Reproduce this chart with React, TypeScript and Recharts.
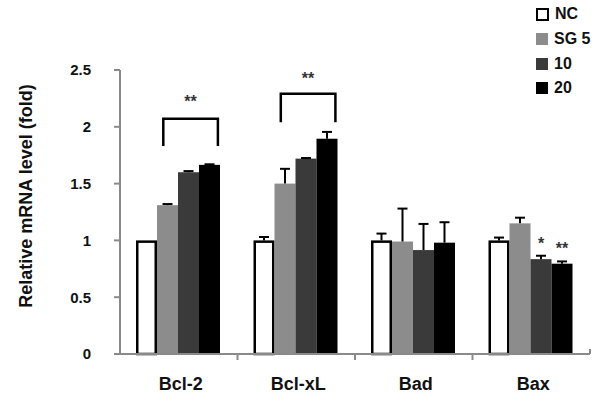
import { BarChart, Bar, XAxis, YAxis, Legend } from "recharts";

const categories = ["Bcl-2", "Bcl-xL", "Bad", "Bax"];

const ncValues = [1.0, 1.0, 1.0, 1.0];
const ncErrors = [0, 0.03, 0.06, 0.025];
const sg5Values = [1.31, 1.5, 0.99, 1.15];
const sg5Errors = [0.01, 0.13, 0.29, 0.05];
const d10Values = [1.6, 1.72, 0.915, 0.835];
const d10Errors = [0.01, 0.005, 0.23, 0.03];
const d20Values = [1.665, 1.895, 0.98, 0.795];
const d20Errors = [0.005, 0.06, 0.18, 0.02];

// stars above single bars
const d10Sig = ["", "", "", "*"];
const d20Sig = ["", "", "", "**"];

// bracket from SG 5 to 20, values in fold units
const bracketTop = [2.07, 2.29, null, null];
const bracketLeg = [1.83, 2.04, null, null];
const bracketLabel = ["**", "**", "", ""];
const bracketLabelAt = [2.25, 2.46, null, null];

const yTicks = [0, 0.5, 1, 1.5, 2, 2.5];

const series = [
  { key: "nc", name: "NC", fill: "#ffffff", stroke: "#000000" },
  { key: "sg5", name: "SG 5", fill: "#8c8c8c" },
  { key: "d10", name: "10", fill: "#3a3a3a" },
  { key: "d20", name: "20", fill: "#000000" },
];

const rows = categories.map((name, i) => ({
  name,
  nc: ncValues[i],
  ncErr: ncErrors[i],
  sg5: sg5Values[i],
  sg5Err: sg5Errors[i],
  d10: d10Values[i],
  d10Err: d10Errors[i],
  d10Sig: d10Sig[i],
  d20: d20Values[i],
  d20Err: d20Errors[i],
  d20Sig: d20Sig[i],
  bracketTop: bracketTop[i],
  bracketLeg: bracketLeg[i],
  bracketLabel: bracketLabel[i],
  bracketLabelAt: bracketLabelAt[i],
}));

const W = 604;
const H = 401;
const MARGIN = { top: 70, right: 14, bottom: 17, left: 0 };
const Y_WIDTH = 120;
const BAND = (W - MARGIN.left - MARGIN.right - Y_WIDTH) / categories.length;
const FONT = "'Liberation Sans', Arial, sans-serif";
const AXIS = "#8a8a8a";

function makeShape(key: string, outlined: boolean) {
  return (props: any) => {
    const { x, y, width, height, payload } = props;
    const value = payload[key];
    const unit = value ? height / value : 0;
    const err = payload[key + "Err"] || 0;
    const cx = x + width / 2;
    const errTop = y - err * unit;
    const sig = payload[key + "Sig"];
    const base = y + height;
    return (
      <g>
        {outlined ? (
          <rect
            x={x + 1.25}
            y={y + 1.25}
            width={width - 2.5}
            height={height - 1.25}
            fill="#ffffff"
            stroke="#000000"
            strokeWidth={2.5}
          />
        ) : (
          <rect x={x} y={y} width={width} height={height} fill={props.fill} />
        )}
        {err > 0 && (
          <g stroke="#000000" strokeWidth={2}>
            <line x1={cx} x2={cx} y1={y} y2={errTop} />
            <line x1={cx - 5} x2={cx + 5} y1={errTop} y2={errTop} />
          </g>
        )}
        {sig && (
          <text
            x={cx}
            y={errTop - 7}
            textAnchor="middle"
            fontSize={16}
            fontWeight="bold"
            fill="#333"
            fontFamily={FONT}
          >
            {sig}
          </text>
        )}
        {key === "d20" && payload.bracketTop != null && (
          <g>
            <path
              d={`M${x - 2 * width + 0.3 * width},${base - payload.bracketLeg * unit}
                 V${base - payload.bracketTop * unit}
                 H${x + 0.9 * width}
                 V${base - payload.bracketLeg * unit}`}
              fill="none"
              stroke="#000000"
              strokeWidth={2.5}
            />
            <text
              x={(x - 1.7 * width + x + 0.9 * width) / 2}
              y={base - payload.bracketLabelAt * unit + 9}
              textAnchor="middle"
              fontSize={16}
              fontWeight="bold"
              fill="#333"
              fontFamily={FONT}
            >
              {payload.bracketLabel}
            </text>
          </g>
        )}
      </g>
    );
  };
}

function XTick(props: any) {
  const { x, y, payload, index } = props;
  const last = index === categories.length - 1;
  return (
    <g>
      {index > 0 && (
        <line x1={x - BAND / 2} x2={x - BAND / 2} y1={y} y2={y + 6} stroke={AXIS} strokeWidth={2} />
      )}
      {last && (
        <line x1={x + BAND / 2} x2={x + BAND / 2} y1={y - 5} y2={y} stroke={AXIS} strokeWidth={2} />
      )}
      <text
        x={x + 2}
        y={y + 36}
        textAnchor="middle"
        fontSize={18}
        fontWeight="bold"
        fill="#111"
        fontFamily={FONT}
      >
        {payload.value}
      </text>
    </g>
  );
}

function LegendBox() {
  return (
    <div style={{ fontFamily: FONT, fontWeight: "bold", fontSize: 16, color: "#111" }}>
      {series.map((s) => (
        <div key={s.key} style={{ display: "flex", alignItems: "center", height: 24.7 }}>
          <span
            style={{
              display: "inline-block",
              width: s.stroke ? 9 : 12,
              height: s.stroke ? 9 : 12,
              background: s.fill,
              border: s.stroke ? "2px solid #000" : "none",
              marginRight: 6,
            }}
          />
          <span>{s.name}</span>
        </div>
      ))}
    </div>
  );
}

export default function App() {
  return (
    <div style={{ position: "absolute", left: 0, top: 0, width: W, height: H, background: "#fff" }}>
      <BarChart
        width={W}
        height={H}
        data={rows}
        margin={MARGIN}
        barCategoryGap={16}
        barGap={0}
      >
        <XAxis
          dataKey="name"
          height={30}
          axisLine={{ stroke: AXIS, strokeWidth: 2 }}
          tickLine={false}
          tickSize={0}
          tickMargin={0}
          tick={<XTick />}
          interval={0}
        />
        <YAxis
          width={Y_WIDTH}
          domain={[0, 2.5]}
          ticks={yTicks}
          interval={0}
          axisLine={{ stroke: AXIS, strokeWidth: 2 }}
          tickLine={{ stroke: AXIS, strokeWidth: 2 }}
          tickSize={6}
          tickMargin={23}
          tick={{ fill: "#111", fontSize: 15, fontWeight: "bold", fontFamily: FONT }}
          label={{
            content: (p: any) => {
              const vb = p.viewBox || { x: 0, y: 70, height: 284 };
              const lx = vb.x + 26;
              const ly = vb.y + vb.height / 2 - 16;
              return (
                <text
                  x={lx}
                  y={ly}
                  transform={`rotate(-90 ${lx} ${ly})`}
                  textAnchor="middle"
                  dominantBaseline="central"
                  fontSize={18}
                  fontWeight="bold"
                  fill="#111"
                  fontFamily={FONT}
                >
                  Relative mRNA level (fold)
                </text>
              );
            },
          }}
        />
        <Legend
          layout="vertical"
          align="center"
          verticalAlign="middle"
          content={() => <LegendBox />}
          wrapperStyle={{ position: "absolute", left: 536, top: 2, width: 68, height: 100 }}
        />
        {series.map((s) => (
          <Bar
            key={s.key}
            dataKey={s.key}
            name={s.name}
            fill={s.fill}
            isAnimationActive={false}
            shape={makeShape(s.key, !!s.stroke)}
          />
        ))}
      </BarChart>
    </div>
  );
}
